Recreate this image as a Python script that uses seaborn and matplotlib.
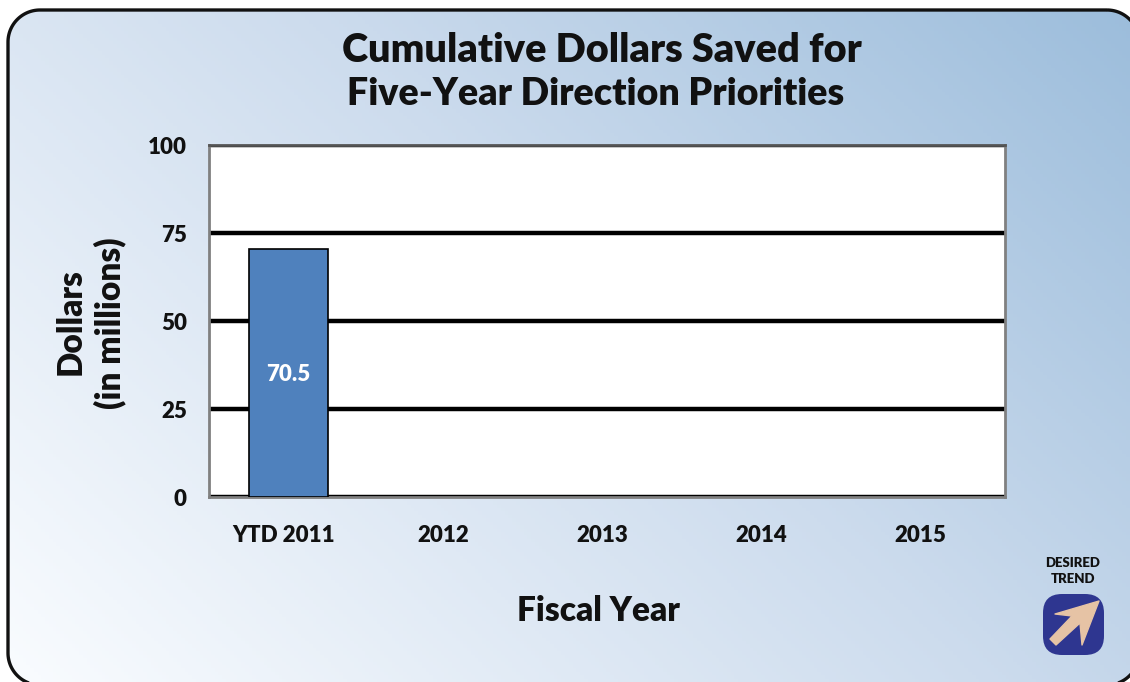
import numpy as np
import pandas as pd
import seaborn as sns
import matplotlib.pyplot as plt
from matplotlib.patches import FancyBboxPatch, Polygon
from matplotlib.transforms import ScaledTranslation

years = ['YTD 2011', '2012', '2013', '2014', '2015']
dollars = [70.5, np.nan, np.nan, np.nan, np.nan]
yticks = [0, 25, 50, 75, 100]

W, H = 1130, 682
sns.set_theme(style='white')
plt.rcParams['font.family'] = ['Lato', 'DejaVu Sans']
plt.rcParams['font.weight'] = 'heavy'

fig = plt.figure(figsize=(W / 100, H / 100), dpi=100, facecolor='white')


def round_rect(x0, y0, x1, y1, r):
    # plain polygon: curved patches get mangled when they run off the canvas
    pts = []
    for cx, cy, a in [(x1 - r, y0 + r, -90), (x1 - r, y1 - r, 0), (x0 + r, y1 - r, 90), (x0 + r, y0 + r, 180)]:
        th = np.radians(np.linspace(a, a + 90, 30))
        pts.append(np.column_stack([cx + r * np.cos(th), cy + r * np.sin(th)]))
    return np.vstack(pts)


# gradient panel, pixel coords
bg = fig.add_axes([0, 0, 1, 1], zorder=0)
bg.axis('off')
xx, yy = np.meshgrid(np.linspace(0, 1, 300), np.linspace(0, 1, 200))
t = (xx * 0.62 + (1 - yy) * 0.38)[..., None]
c0 = np.array([0.98, 0.99, 1.0])
c1 = np.array([0.80, 0.86, 0.93])
c2 = np.array([0.61, 0.74, 0.86])
rgb = np.where(t < 0.55, c0 + (c1 - c0) * (t / 0.55), c1 + (c2 - c1) * ((t - 0.55) / 0.45))
im = bg.imshow(rgb, extent=[0, W, H, 0], aspect='auto', zorder=1)
bg.set_xlim(0, W)
bg.set_ylim(H, 0)
panel = Polygon(round_rect(8, 10, 1139, 685, 32), closed=True, fc='none', ec='#111111', lw=2.4, zorder=2)
bg.add_patch(panel)
im.set_clip_path(panel)

# chart
ax = fig.add_axes([209 / W, 1 - 497 / H, 796 / W, 352 / H], zorder=1)
df = pd.DataFrame({'year': years, 'dollars': dollars})
sns.barplot(data=df, x='year', y='dollars', ax=ax, color='#4f81bd', saturation=1,
            width=0.5, edgecolor='black', linewidth=1.2, zorder=3)
ax.set_facecolor('white')
ax.set_ylim(0, 100)
ax.set_yticks(yticks)
ax.grid(axis='y', color='black', lw=3.2, zorder=2)
ax.set_axisbelow(True)
ax.tick_params(axis='both', length=0, labelsize=16, labelcolor='#111111')
ax.tick_params(axis='x', pad=20)
ax.tick_params(axis='y', pad=16)
# labels in the reference sit a little left of the category centres
shift = ScaledTranslation(-5 / 100, 0, fig.dpi_scale_trans)
for lab in ax.get_xticklabels():
    lab.set_transform(lab.get_transform() + shift)
for s in ax.spines.values():
    s.set_color('#808080')
    s.set_linewidth(2)
    s.set_visible(True)
ax.spines['top'].set_color('#555555')
ax.set_xlabel('')
ax.set_ylabel('')
ax.text(0, 34.8, '70.5', color='white', fontsize=16, ha='center', va='center', zorder=4)


# figure text
def txt(x, y, s, **kw):
    bg.text(x, y, s, ha='center', va='center', color='#111111', zorder=5, **kw)


txt(602, 51, 'Cumulative Dollars Saved for', fontsize=28.5)
txt(596, 94, 'Five-Year Direction Priorities', fontsize=27)
txt(598, 611, 'Fiscal Year', fontsize=24)
txt(71, 322, 'Dollars', fontsize=24, rotation=90)
txt(110, 323, '(in millions)', fontsize=24, rotation=90)
txt(1073, 563, 'DESIRED', fontsize=9.5)
txt(1073, 579, 'TREND', fontsize=9.5)

# desired trend badge
badge = FancyBboxPatch((1043, 594), 61, 61, boxstyle='round,pad=0,rounding_size=19',
                       fc='#2e3690', ec='none', zorder=5)
bg.add_patch(badge)
arrow = Polygon([(1099, 601), (1082, 645), (1080, 623), (1056, 645), (1050, 639),
                 (1072, 616), (1055, 614)], closed=True, fc='#e6c3a5', ec='#e6c3a5',
                lw=1, joinstyle='round', zorder=6)
bg.add_patch(arrow)

fig.savefig('out.png', dpi=100)
